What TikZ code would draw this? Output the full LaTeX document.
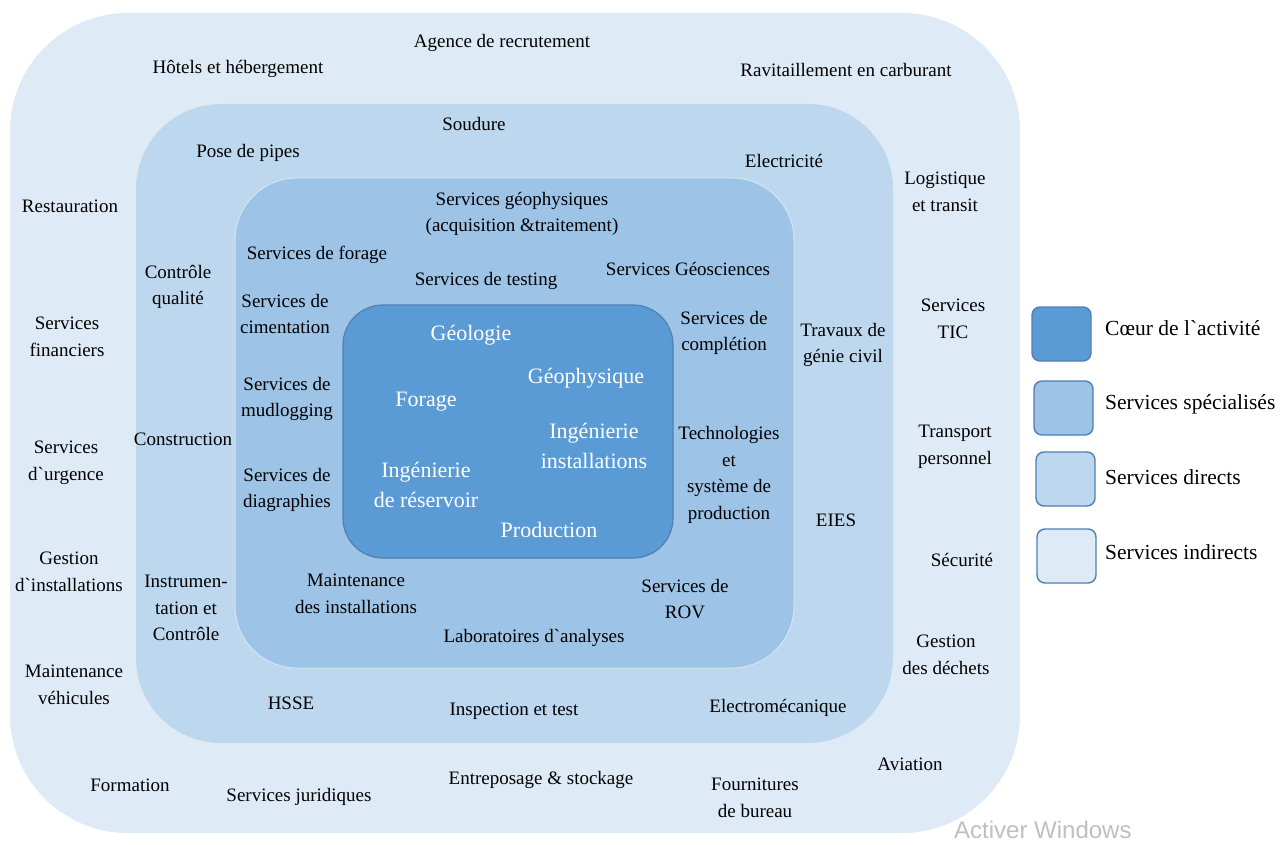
\documentclass[tikz,border=0pt]{standalone}
\usepackage{fontspec}
\setmainfont{Liberation Serif}
\newfontfamily\wmfont{Liberation Sans}
\newcommand\bq{\textasciigrave{}}
\definecolor{cInd}{HTML}{DEEBF7}
\definecolor{cDir}{HTML}{BDD7EE}
\definecolor{cSpe}{HTML}{9DC3E6}
\definecolor{cCor}{HTML}{5B9BD5}
\definecolor{cEdge}{HTML}{4F7FB5}
\begin{document}
\begin{tikzpicture}[x=1pt,y=-1pt,
  lbl/.style={align=center,inner sep=0pt,font=\fontsize{19}{26.5}\selectfont,text=black},
  corelbl/.style={align=center,inner sep=0pt,font=\fontsize{22}{30}\selectfont,text=white},
  leglbl/.style={anchor=west,inner sep=0pt,font=\fontsize{21.5}{26}\selectfont,text=black},
  legbox/.style={draw=cEdge,line width=1.4pt,rounded corners=8pt}]
\useasboundingbox (0,0) rectangle (1282,845);
\fill[white] (0,0) rectangle (1282,845);
% rings
\fill[cInd,rounded corners=118pt] (10,13) rectangle (1020,833);
\fill[cDir,rounded corners=85pt] (136,104) rectangle (893,743);
\draw[fill=cSpe,draw=white!55!cSpe,line width=1pt,rounded corners=62pt] (235,178) rectangle (794,668);
\draw[fill=cCor,draw=cEdge,line width=1.2pt,rounded corners=40pt] (343,305) rectangle (673,558);
% indirect services
\node[lbl] (i1) at (502,43) {Agence de recrutement};
\node[lbl] (i2) at (238,69) {Hôtels et hébergement};
\node[lbl] (i3) at (846,70) {Ravitaillement en carburant};
\node[lbl] (i4) at (70,206) {Restauration};
\node[lbl] (i5) at (945,192) {Logistique\\et transit};
\node[lbl] (i6) at (67,337) {Services\\financiers};
\node[lbl] (i7) at (953,319) {Services\\TIC};
\node[lbl] (i8) at (66,463) {Services\\d\bq urgence};
\node[lbl] (i9) at (955,447) {Transport\\personnel};
\node[lbl] (i10) at (69,572) {Gestion\\d\bq installations};
\node[lbl] (i11) at (962,560) {Sécurité};
\node[lbl] (i12) at (946,655) {Gestion\\des déchets};
\node[lbl] (i13) at (74,685) {Maintenance\\véhicules};
\node[lbl] (i14) at (910,764) {Aviation};
\node[lbl] (i15) at (130,785) {Formation};
\node[lbl] (i16) at (299,797) {Services juridiques};
\node[lbl] (i17) at (541,780) {Entreposage \& stockage};
\node[lbl] (i18) at (755,798) {Fournitures\\de bureau};
% direct services
\node[lbl] (d1) at (474,124) {Soudure};
\node[lbl] (d2) at (248,153) {Pose de pipes};
\node[lbl] (d3) at (784,161) {Electricité};
\node[lbl] (d4) at (178,287) {Contrôle\\qualité};
\node[lbl] (d5) at (843,345) {Travaux de\\génie civil};
\node[lbl] (d6) at (183,439) {Construction};
\node[lbl] (d7) at (836,520) {EIES};
\node[lbl] (d8) at (186,608) {Instrumen-\\tation et\\Contrôle};
\node[lbl] (d9) at (291,703) {HSSE};
\node[lbl] (d10) at (514,711) {Inspection et test};
\node[lbl] (d11) at (778,708) {Electromécanique};
% specialised services
\node[lbl] (s1) at (522,214) {Services géophysiques\\(acquisition \&traitement)};
\node[lbl] (s2) at (317,255) {Services de forage};
\node[lbl] (s3) at (486,281) {Services de testing};
\node[lbl] (s4) at (688,269) {Services Géosciences};
\node[lbl] (s5) at (285,314) {Services de\\cimentation};
\node[lbl] (s6) at (724,333) {Services de\\complétion};
\node[lbl] (s7) at (287,399) {Services de\\mudlogging};
\node[lbl] (s8) at (729,475) {Technologies\\et\\système de\\production};
\node[lbl] (s9) at (287,490) {Services de\\diagraphies};
\node[lbl] (s10) at (356,594) {Maintenance\\des installations};
\node[lbl] (s11) at (685,599) {Services de\\ROV};
\node[lbl] (s12) at (534,638) {Laboratoires d\bq analyses};
% core
\node[corelbl] (c1) at (471,335) {Géologie};
\node[corelbl] (c2) at (586,378) {Géophysique};
\node[corelbl] (c3) at (426,402) {Forage};
\node[corelbl] (c4) at (594,446) {Ingénierie\\installations};
\node[corelbl] (c5) at (426,485) {Ingénierie\\de réservoir};
\node[corelbl] (c6) at (549,530) {Production};
% legend
\draw[legbox,fill=cCor] (1032,307) rectangle (1091,361);
\draw[legbox,fill=cSpe] (1034,381) rectangle (1093,435);
\draw[legbox,fill=cDir] (1036,452) rectangle (1095,506);
\draw[legbox,fill=cInd] (1037,529) rectangle (1096,583);
\node[leglbl] (l1) at (1105,328) {Cœur de l\bq activité};
\node[leglbl] (l2) at (1105,404) {Services spécialisés};
\node[leglbl] (l3) at (1105,477) {Services directs};
\node[leglbl] (l4) at (1105,552) {Services indirects};
% watermark
\node[anchor=west,inner sep=0pt,text=black!25,font=\wmfont\fontsize{24}{28}\selectfont] (wm) at (954,830) {Activer Windows};
\end{tikzpicture}
\end{document}
